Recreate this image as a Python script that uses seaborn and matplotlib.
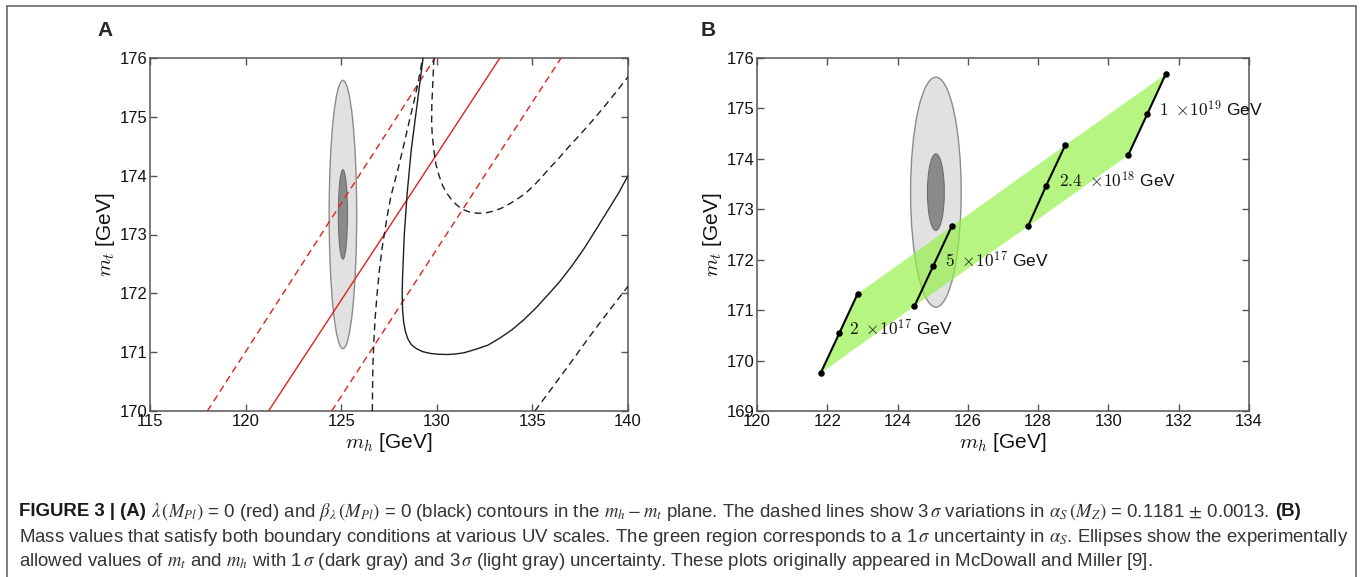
import numpy as np
import pandas as pd
import matplotlib
matplotlib.use("Agg")
import matplotlib.pyplot as plt
import seaborn as sns
from matplotlib.patches import Ellipse
from matplotlib.lines import Line2D

# ---------------- data ----------------
# Panel A: lambda(M_Pl)=0 contours (red), straight lines
red_mh = [121.2, 133.3]
red_mt = [170.0, 176.0]
red_lo_mh = [118.0, 129.9]
red_lo_mt = [170.0, 176.0]
red_hi_mh = [124.5, 136.5]
red_hi_mt = [170.0, 176.0]

# Panel A: beta_lambda(M_Pl)=0 contours (black)
blk_mh = [129.28, 128.93, 128.66, 128.45, 128.30, 128.21, 128.19, 128.21, 128.27,
          128.36, 128.48, 128.66, 128.93, 129.25, 129.64, 130.05, 130.54, 131.0,
          131.43, 132.05, 132.68, 133.3, 133.93, 134.55, 135.18, 135.8, 136.43,
          137.05, 137.68, 138.3, 138.93, 139.5, 140.0]
blk_mt = [176.0, 175.11, 174.43, 173.70, 173.00, 172.28, 172.0, 171.72, 171.50,
          171.35, 171.23, 171.13, 171.06, 171.01, 170.98, 170.965, 170.96, 170.97,
          170.99, 171.05, 171.12, 171.24, 171.38, 171.55, 171.75, 171.97, 172.20,
          172.46, 172.75, 173.07, 173.40, 173.70, 174.0]
blk_u_mh = [129.85, 129.78, 129.74, 129.73, 129.76, 129.82, 129.95, 130.12, 130.32,
            130.55, 130.80, 131.05, 131.32, 131.72, 132.16, 132.6, 133.0, 133.4,
            133.8, 134.25, 134.67, 135.1, 135.5, 135.9, 136.34, 136.9, 137.5, 138.1,
            138.7, 139.35, 140.0]
blk_u_mt = [176.0, 175.5, 175.2, 174.9, 174.7, 174.5, 174.2, 174.0, 173.82, 173.69,
            173.58, 173.5, 173.43, 173.38, 173.36, 173.37, 173.40, 173.45, 173.52,
            173.61, 173.71, 173.84, 173.98, 174.13, 174.28, 174.49, 174.70, 174.92,
            175.15, 175.41, 175.68]
blk_l_mh = [126.63, 126.64, 126.66, 126.71, 126.78, 126.88, 127.0, 127.14, 127.3,
            127.45, 127.6, 127.8, 128.0, 128.2, 128.4, 128.6, 128.8, 128.98, 129.15,
            129.25]
blk_l_mt = [170.0, 170.4, 170.8, 171.2, 171.6, 172.0, 172.4, 172.77, 173.1, 173.39,
            173.65, 173.9, 174.15, 174.42, 174.7, 174.98, 175.25, 175.52, 175.8, 176.0]
blk_r_mh = [135.13, 136.0, 137.0, 138.0, 139.0, 140.0]
blk_r_mt = [170.0, 170.38, 170.82, 171.27, 171.70, 172.12]

# Experimental values (ellipses)
mh_center, mt_center = 125.09, 173.34
mh_sigma, mt_sigma = 0.24, 0.76

# Panel B: UV-scale segments (low, central, high alpha_s)
scale_labels = [r"$2\ \times\!10^{17}$ GeV", r"$5\ \times\!10^{17}$ GeV",
                r"$2.4\ \times\!10^{18}$ GeV", r"$1\ \times\!10^{19}$ GeV"]
seg_mh = [[121.81, 122.34, 122.86],
          [124.48, 125.01, 125.54],
          [127.71, 128.23, 128.77],
          [130.56, 131.10, 131.63]]
seg_mt = [[169.75, 170.54, 171.32],
          [171.08, 171.87, 172.66],
          [172.66, 173.47, 174.27],
          [174.07, 174.88, 175.68]]
label_mh = [122.62, 125.36, 128.6, 131.45]
label_mt = [170.64, 171.99, 173.58, 174.98]

# ---------------- style ----------------
sns.set_theme(style="ticks")
plt.rcParams["font.family"] = ["Liberation Sans", "DejaVu Sans"]
plt.rcParams["axes.edgecolor"] = "#555555"
plt.rcParams["axes.linewidth"] = 1.1

W, H = 1360, 577
fig = plt.figure(figsize=(W / 100, H / 100), dpi=100)
fig.patch.set_facecolor("white")


def fig_rect(l, t, r, b):
    return [l / W, 1 - b / H, (r - l) / W, (b - t) / H]


axA = fig.add_axes(fig_rect(150, 58, 628, 411))
axB = fig.add_axes(fig_rect(757, 58, 1249, 411))

RED = "#e3211c"
BLK = "#1e1e1e"
DASH = (0, (5.0, 3.3))
TICK_FS = 12
LAB_FS = 15


def style_axes(ax, xticks, yticks, xlim, ylim):
    ax.set_xlim(*xlim)
    ax.set_ylim(*ylim)
    ax.set_xticks(xticks)
    ax.set_yticks(yticks)
    ax.tick_params(direction="in", top=True, right=True, length=5, width=1,
                   color="#555555", labelsize=TICK_FS, labelcolor="#111111")
    ax.tick_params(axis="x", pad=2.5)
    ax.tick_params(axis="y", pad=1.5)
    for s in ax.spines.values():
        s.set_visible(True)
        s.set_color("#555555")
    ax.set_xlabel(r"$m_h$ [GeV]", fontsize=LAB_FS, math_fontfamily="cm",
                  color="#111111", labelpad=1)
    ax.set_ylabel(r"$m_t$ [GeV]", fontsize=LAB_FS, math_fontfamily="cm",
                  color="#111111", labelpad=2)


def add_ellipses(ax):
    ax.add_patch(Ellipse((mh_center, mt_center), 6 * mh_sigma, 6 * mt_sigma,
                         facecolor="#e1e1e1", edgecolor="#8c8c8c", lw=1.0, zorder=1))
    ax.add_patch(Ellipse((mh_center, mt_center), 2 * mh_sigma, 2 * mt_sigma,
                         facecolor="#8a8a8a", edgecolor="#6e6e6e", lw=0.8, zorder=1.1))


# ---------------- Panel A ----------------
add_ellipses(axA)
for xs, ys, ls in [(red_mh, red_mt, "-"), (red_lo_mh, red_lo_mt, DASH),
                   (red_hi_mh, red_hi_mt, DASH)]:
    sns.lineplot(x=xs, y=ys, sort=False, estimator=None, color=RED, lw=1.0,
                 linestyle=ls, ax=axA, zorder=3)
for xs, ys, ls in [(blk_mh, blk_mt, "-"), (blk_u_mh, blk_u_mt, DASH),
                   (blk_l_mh, blk_l_mt, DASH), (blk_r_mh, blk_r_mt, DASH)]:
    sns.lineplot(x=xs, y=ys, sort=False, estimator=None, color=BLK, lw=1.0,
                 linestyle=ls, ax=axA, zorder=3)
style_axes(axA, np.arange(115, 141, 5), np.arange(170, 177, 1), (115, 140), (170, 176))

# ---------------- Panel B ----------------
add_ellipses(axB)
band_x = [s[0] for s in seg_mh] + [s[2] for s in seg_mh][::-1]
band_y = [s[0] for s in seg_mt] + [s[2] for s in seg_mt][::-1]
axB.fill(band_x, band_y, color="#94f145", alpha=0.68, lw=0, zorder=2)
for xs, ys in zip(seg_mh, seg_mt):
    sns.lineplot(x=xs, y=ys, sort=False, estimator=None, color="black", lw=1.5,
                 ax=axB, zorder=4)
    sns.scatterplot(x=xs, y=ys, color="black", s=22, edgecolor="black",
                    linewidth=0, ax=axB, zorder=5)
for lx, ly, txt in zip(label_mh, label_mt, scale_labels):
    axB.text(lx, ly, txt, fontsize=12.5, math_fontfamily="cm", ha="left",
             va="center", color="#111111", zorder=6)
style_axes(axB, np.arange(120, 135, 2), np.arange(169, 177, 1), (120, 134), (169, 176))

# panel letters
fig.text(105 / W, 1 - 31 / H, "A", fontsize=15, fontweight="bold", ha="center", va="center")
fig.text(708 / W, 1 - 31 / H, "B", fontsize=15, fontweight="bold", ha="center", va="center")

# frame around the figure
for xs, ys in [([7, 7], [577, 6]), ([7, 1356], [6, 6]), ([1356, 1356], [6, 577])]:
    fig.add_artist(Line2D([x / W for x in xs], [1 - y / H for y in ys],
                          transform=fig.transFigure, color="#6a6a6a", lw=1.2))

# ---------------- caption ----------------
cap_lines = [
    [("FIGURE 3 | (A)", "bold"),
     (r"$\lambda\,(M_{Pl})$ = 0 (red) and $\beta_\lambda\,(M_{Pl})$ = 0 (black) contours in the "
      r"$m_h - m_t$ plane. The dashed lines show 3$\,\sigma$ variations in "
      r"$\alpha_S\,(M_Z)$ = 0.1181 $\pm$ 0.0013.", "normal"),
     ("(B)", "bold")],
    [("Mass values that satisfy both boundary conditions at various UV scales. The green region "
      r"corresponds to a 1$\,\sigma$ uncertainty in $\alpha_S$. Ellipses show the experimentally",
      "normal")],
    [(r"allowed values of $m_t$ and $m_h$ with 1$\,\sigma$ (dark gray) and 3$\,\sigma$ "
      "(light gray) uncertainty. These plots originally appeared in McDowall and Miller [9].",
      "normal")],
]
cap_y = [512, 537, 562]
renderer = fig.canvas.get_renderer()
X0 = 19


def draw_line(segs, y, size):
    x = X0
    arts = []
    gap = size * 0.30 * 100 / 72
    for txt, wt in segs:
        t = fig.text(x / W, 1 - y / H, txt, fontsize=size, fontweight=wt,
                     color="#1a1a1a" if wt == "bold" else "#333333",
                     math_fontfamily="stix", ha="left", va="center")
        bb = t.get_window_extent(renderer)
        x += bb.width + gap
        arts.append(t)
    return arts, x - gap


size0 = 11
sizes = []
for segs, y in zip(cap_lines, cap_y):
    arts, xend = draw_line(segs, y, size0)
    sizes.append(size0 * (1346 - X0) / (xend - X0))
    for a in arts:
        a.remove()
size = min(sizes)
for segs, y in zip(cap_lines, cap_y):
    draw_line(segs, y, size)

fig.savefig("out.png", dpi=100, facecolor="white")
